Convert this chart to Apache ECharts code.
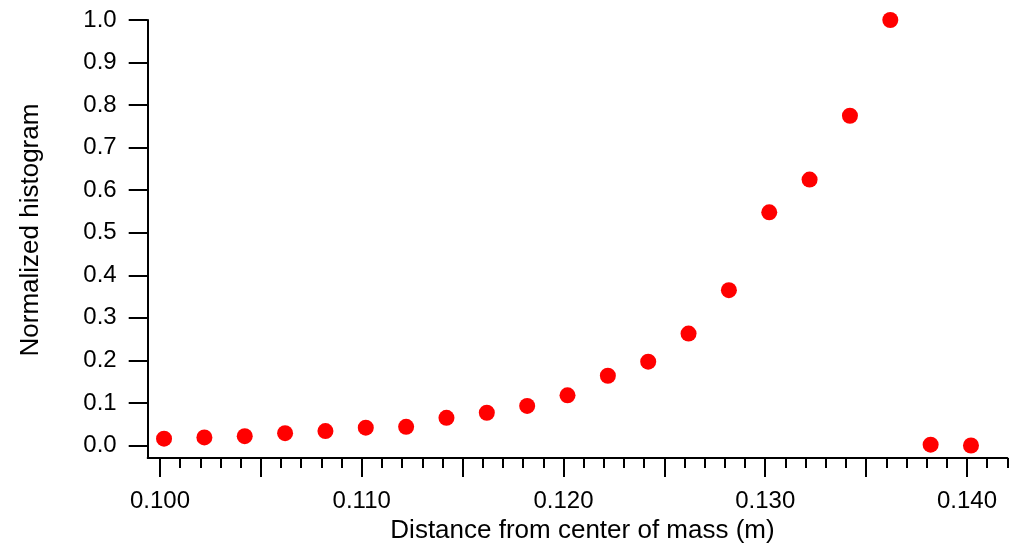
<!DOCTYPE html>
<html>
<head>
<meta charset="utf-8">
<script src="https://cdn.jsdelivr.net/npm/echarts@6/dist/echarts.min.js"></script>
<style>
html,body{margin:0;padding:0;background:#fff;}
#chart{width:1013px;height:549px;}
</style>
</head>
<body>
<div id="chart"></div>
<script>
// Data
const distance = [0.1002, 0.1022, 0.1042, 0.1062, 0.1082, 0.1102, 0.1122, 0.1142, 0.1162, 0.1182,
                  0.1202, 0.1222, 0.1242, 0.1262, 0.1282, 0.1302, 0.1322, 0.1342, 0.1362, 0.1382, 0.1402];
const histogram = [0.016, 0.019, 0.022, 0.029, 0.034, 0.042, 0.044, 0.065, 0.077, 0.093,
                   0.118, 0.164, 0.197, 0.263, 0.365, 0.548, 0.625, 0.775, 1.0, 0.002, 0.0];
const xLabelTicks = [0.100, 0.110, 0.120, 0.130, 0.140];
const xMajorTicks = [0.100, 0.105, 0.110, 0.115, 0.120, 0.125, 0.130, 0.135, 0.140];
const xMinorTicks = [];
for (let k = 100; k <= 142; k++) xMinorTicks.push(k / 1000);
const yTicks = [0.0, 0.1, 0.2, 0.3, 0.4, 0.5, 0.6, 0.7, 0.8, 0.9, 1.0];

const FONT = 'Liberation Sans';
const chart = echarts.init(document.getElementById('chart'), null, {renderer: 'canvas'});
const points = distance.map((d, i) => [d, histogram[i]]);

chart.setOption({
  animation: false,
  backgroundColor: '#ffffff',
  grid: {left: 147.7, right: 5.7, top: 20, bottom: 90.7, containLabel: false},
  xAxis: [{
    type: 'value',
    min: 0.09939, max: 0.142,
    position: 'bottom',
    name: 'Distance from center of mass (m)',
    nameLocation: 'middle',
    nameGap: 40,
    nameTextStyle: {fontFamily: FONT, fontSize: 26, color: '#000', padding: [0, 0, 0, 10]},
    axisLine: {show: true, onZero: false, lineStyle: {color: '#000', width: 2}},
    axisTick: {show: true, inside: false, length: 19, customValues: xMajorTicks, lineStyle: {color: '#000', width: 2}},
    axisLabel: {show: true, margin: 31, customValues: xLabelTicks, fontFamily: FONT, fontSize: 24, color: '#000',
                formatter: v => v.toFixed(3)},
    splitLine: {show: false}
  }, {
    type: 'value',
    min: 0.09939, max: 0.142,
    position: 'bottom',
    axisLine: {show: false, onZero: false},
    axisTick: {show: true, inside: false, length: 10, customValues: xMinorTicks, lineStyle: {color: '#000', width: 2}},
    axisLabel: {show: false},
    splitLine: {show: false}
  }],
  yAxis: {
    type: 'value',
    min: -0.0296, max: 1.0,
    name: 'Normalized histogram',
    nameLocation: 'middle',
    nameGap: 104,
    nameTextStyle: {fontFamily: FONT, fontSize: 26, color: '#000', padding: [0, 0, 0, 18]},
    axisLine: {show: true, onZero: false, lineStyle: {color: '#000', width: 2}},
    axisTick: {show: true, inside: false, length: 19, customValues: yTicks, lineStyle: {color: '#000', width: 2}},
    axisLabel: {show: true, margin: 31, customValues: yTicks, fontFamily: FONT, fontSize: 24, color: '#000',
                formatter: v => v.toFixed(1)},
    splitLine: {show: false}
  },
  series: [{
    type: 'scatter',
    xAxisIndex: 0,
    data: points,
    symbol: 'circle',
    symbolSize: 16,
    itemStyle: {color: '#ff0000', opacity: 1},
    clip: false
  }]
});
</script>
</body>
</html>
